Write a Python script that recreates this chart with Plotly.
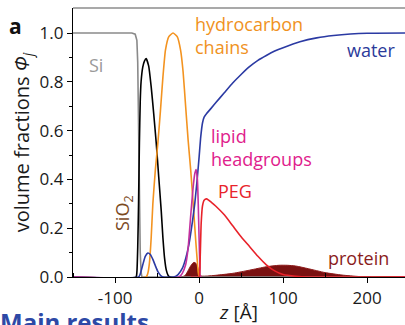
import plotly.graph_objects as go

# ---------------- data ----------------
si_z = [-150, -100, -80, -76, -74, -73, -72, -71, -70, -69, -68, 245]
si_v = [1.0, 1.0, 1.0, 0.995, 0.97, 0.88, 0.6, 0.3, 0.1, 0.02, 0.0, 0.0]

sio2_z = [-150, -75, -74, -73, -72, -71, -70, -69, -67, -65, -63, -60, -57, -54, -51, -48, -45, -43, -41, -39, -37, -35, 245]
sio2_v = [0.0, 0.0, 0.02, 0.12, 0.3, 0.55, 0.72, 0.8, 0.86, 0.885, 0.895, 0.865, 0.78, 0.67, 0.55, 0.41, 0.27, 0.16, 0.075, 0.028, 0.008, 0.0, 0.0]

water_z = [-150, -72, -70, -67, -64, -61, -58, -55, -52, -49, -46, -43, -30, -25, -20, -16, -12, -8, -5, -2, 0, 2, 4, 6, 9, 14, 20, 30, 40, 50, 60, 70, 80, 90, 100, 120, 140, 160, 180, 200, 245]
water_v = [0.0, 0.0, 0.012, 0.05, 0.085, 0.098, 0.092, 0.072, 0.046, 0.022, 0.007, 0.0, 0.0, 0.01, 0.035, 0.075, 0.135, 0.225, 0.305, 0.41, 0.49, 0.575, 0.63, 0.655, 0.67, 0.69, 0.715, 0.755, 0.795, 0.83, 0.862, 0.888, 0.908, 0.926, 0.94, 0.964, 0.98, 0.99, 0.996, 0.999, 1.0]

hc_z = [-150, -63, -61, -59, -57, -55, -52, -49, -46, -43, -40, -36, -31, -26, -22, -19, -16, -13, -10, -7, -4, -2, -1, 0.5, 245]
hc_v = [0.0, 0.0, 0.015, 0.06, 0.16, 0.3, 0.44, 0.55, 0.68, 0.82, 0.93, 0.985, 1.0, 0.985, 0.93, 0.84, 0.7, 0.56, 0.44, 0.3, 0.15, 0.06, 0.02, 0.0, 0.0]

head_z = [-150, -24, -20, -16, -13, -10, -7, -5, -3.5, -2, -1, 0, 1, 2, 245]
head_v = [0.0, 0.0, 0.015, 0.05, 0.12, 0.25, 0.37, 0.425, 0.44, 0.4, 0.3, 0.16, 0.04, 0.0, 0.0]

peg_z = [-10, 0, 0.8, 1.5, 2.5, 4, 6, 9, 15, 20, 30, 40, 50, 60, 70, 80, 90, 100, 115, 130, 245]
peg_v = [0.0, 0.0, 0.02, 0.1, 0.22, 0.29, 0.315, 0.32, 0.305, 0.29, 0.255, 0.21, 0.165, 0.125, 0.085, 0.05, 0.025, 0.01, 0.003, 0.0, 0.0]

prot_z = [-22, -17, -14, -11, -8, -6, -4, -2, -1, 0, 3, 10, 20, 40, 60, 80, 95, 105, 115, 130, 150, 170, 190, 205]
prot_v = [0.0, 0.005, 0.02, 0.04, 0.055, 0.06, 0.057, 0.045, 0.03, 0.012, 0.004, 0.004, 0.007, 0.015, 0.028, 0.042, 0.048, 0.048, 0.045, 0.034, 0.018, 0.008, 0.002, 0.0]

x_ticks = [-100, 0, 100, 200]
y_ticks = [0.0, 0.2, 0.4, 0.6, 0.8, 1.0]
y_ticklabels = ["0.0", "0.2", "0.4", "0.6", "0.8", "1.0"]

# ---------------- figure ----------------
W, H = 405, 325
L, R, T, B = 73, 0, 8, 48
FONT = "Open Sans"

fig = go.Figure()

fig.add_trace(go.Scatter(x=prot_z, y=prot_v, mode="lines", fill="tozeroy",
                         fillcolor="#7a1111", line=dict(color="#8e1a1a", width=1, shape="spline", smoothing=0.6)))
fig.add_trace(go.Scatter(x=si_z, y=si_v, mode="lines", line=dict(color="#8a8a8a", width=1.6)))
fig.add_trace(go.Scatter(x=sio2_z, y=sio2_v, mode="lines", line=dict(color="#000000", width=1.6, shape="spline", smoothing=0.5)))
fig.add_trace(go.Scatter(x=hc_z, y=hc_v, mode="lines", line=dict(color="#f39320", width=1.6, shape="spline", smoothing=0.5)))
fig.add_trace(go.Scatter(x=water_z, y=water_v, mode="lines", line=dict(color="#2b3aa3", width=1.6, shape="spline", smoothing=0.5)))
fig.add_trace(go.Scatter(x=head_z, y=head_v, mode="lines", line=dict(color="#c4309e", width=1.6, shape="spline", smoothing=0.5)))
fig.add_trace(go.Scatter(x=peg_z, y=peg_v, mode="lines", line=dict(color="#e8222a", width=1.6, shape="spline", smoothing=0.5)))

pw = W - L - R
ph = H - T - B


def px(xp):
    return (xp - L) / pw


def py(yp):
    return (H - B - yp) / ph


ann = []


def label(text, x, y, color, size=18, xanchor="center", yanchor="middle", textangle=0, bold=False, align="left"):
    if bold:
        text = "<b>" + text + "</b>"
    ann.append(dict(text=text, x=px(x), y=py(y), xref="paper", yref="paper",
                    xanchor=xanchor, yanchor=yanchor, showarrow=False, textangle=textangle,
                    align=align, font=dict(family=FONT, size=size, color=color)))


label("Si", 96, 65, "#9a9a9a", size=18)
label("hydrocarbon<br>chains", 193, 35, "#f0921e", size=18, xanchor="left")
label("water", 371, 50, "#2b3a9a", size=18)
label("lipid<br>headgroups", 209, 147, "#e0208c", size=18, xanchor="left")
label("PEG", 216, 191, "#e8232b", size=18, xanchor="left")
label("protein", 326, 258, "#8a1c1c", size=18, xanchor="left")
label("SiO<sub>2</sub>", 123, 213, "#7b4a1f", size=18, textangle=-90)
label("a", 15, 26, "#111111", size=21, bold=True)
label("Main results", -2, 303, "#2d49a6", size=24, xanchor="left", yanchor="top", bold=True)

fig.update_layout(
    width=W, height=H,
    margin=dict(l=L, r=R, t=T, b=B, autoexpand=False),
    paper_bgcolor="white", plot_bgcolor="white",
    showlegend=False,
    font=dict(family=FONT, size=17, color="#1a1a1a"),
    annotations=ann,
    shapes=[dict(type="line", xref="paper", yref="paper", x0=0, x1=1, y0=1, y1=1,
                 line=dict(color="#555555", width=1.2))],
)

fig.update_xaxes(range=[-150, 245], showgrid=False, zeroline=False,
                 showline=True, linecolor="#000000", linewidth=1.2,
                 ticks="outside", ticklen=5, tickwidth=1, tickcolor="#000000",
                 tickvals=x_ticks, ticktext=[str(v) for v in x_ticks],
                 tickfont=dict(family=FONT, size=17, color="#1a1a1a"),
                 minor=dict(tickvals=[-150, -50, 50, 150], ticks="inside", ticklen=4, tickcolor="#000000"),
                 title=dict(text="<i>z</i> [Å]", font=dict(family=FONT, size=19, color="#1a1a1a"), standoff=0))

fig.update_yaxes(range=[0, (H - B - T) / 244.0], showgrid=False, zeroline=False,
                 showline=True, linecolor="#000000", linewidth=1.2,
                 ticks="outside", ticklen=5, tickwidth=1, tickcolor="#000000",
                 tickvals=y_ticks, ticktext=y_ticklabels,
                 tickfont=dict(family=FONT, size=17, color="#1a1a1a"),
                 minor=dict(tickvals=[0.1, 0.3, 0.5, 0.7, 0.9], ticks="outside", ticklen=3, tickcolor="#000000"),
                 title=dict(text="volume fractions <i>Φ</i><sub><i>j</i></sub>",
                            font=dict(family=FONT, size=20, color="#1a1a1a"), standoff=4))

fig.write_html("out.html")
